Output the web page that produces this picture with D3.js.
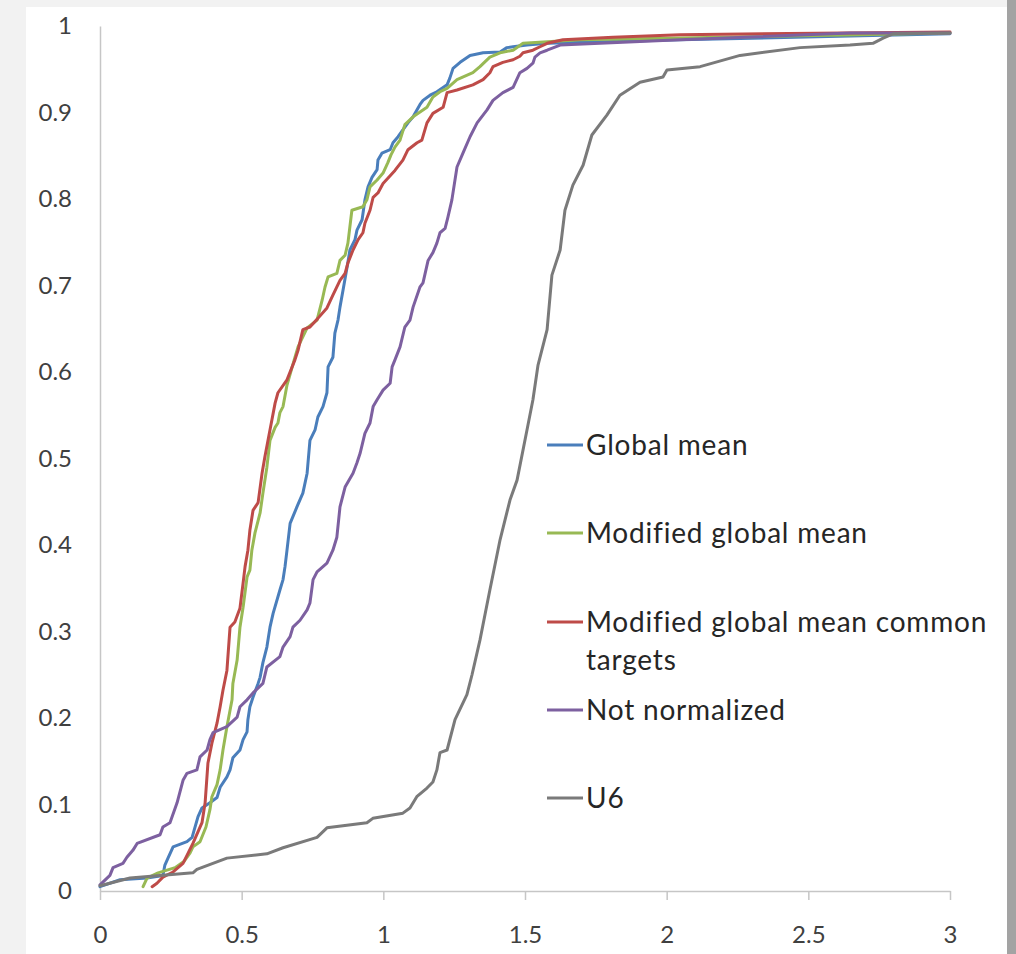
<!DOCTYPE html>
<html>
<head>
<meta charset="utf-8">
<script src="https://cdn.jsdelivr.net/npm/d3@7"></script>
<style>
  html, body { margin: 0; padding: 0; background: #f2f2f2; }
  svg { display: block; }
  .tick text { font-family: Lato, "Open Sans", sans-serif; fill: #404040; }
  .legend text { font-family: Lato, "Open Sans", sans-serif; fill: #262626; }
</style>
</head>
<body>
<svg id="chart" width="1016" height="954"></svg>
<script>
// series names, in drawing order
const seriesNames = [
  "Global mean",
  "Modified global mean",
  "Modified global mean common targets",
  "Not normalized",
  "U6",
];
const seriesColors = ["#4a7ebb", "#98b954", "#be4b48", "#7d60a0", "#7a7a7a"];

// tick values
const xTicks = [0, 0.5, 1, 1.5, 2, 2.5, 3];
const yTicks = [0, 0.1, 0.2, 0.3, 0.4, 0.5, 0.6, 0.7, 0.8, 0.9, 1];

// curves, [x, cumulative fraction]
const globalMean = [
  [0, 0.005], [0.071, 0.013], [0.166, 0.015], [0.222, 0.018], [0.229, 0.030],
  [0.240, 0.038], [0.258, 0.051], [0.307, 0.057], [0.325, 0.062], [0.346, 0.086],
  [0.360, 0.096], [0.388, 0.102], [0.413, 0.108], [0.424, 0.120], [0.448, 0.132],
  [0.459, 0.140], [0.469, 0.154], [0.494, 0.163], [0.505, 0.175], [0.519, 0.184],
  [0.522, 0.198], [0.529, 0.213], [0.540, 0.224], [0.558, 0.240], [0.565, 0.247],
  [0.575, 0.264], [0.589, 0.282], [0.600, 0.305], [0.611, 0.321], [0.635, 0.348],
  [0.646, 0.360], [0.653, 0.375], [0.660, 0.394], [0.671, 0.425], [0.695, 0.444],
  [0.716, 0.460], [0.731, 0.483], [0.741, 0.521], [0.759, 0.533], [0.769, 0.548],
  [0.787, 0.560], [0.801, 0.576], [0.805, 0.606], [0.822, 0.617], [0.829, 0.645],
  [0.840, 0.660], [0.847, 0.675], [0.858, 0.695], [0.872, 0.721], [0.882, 0.741],
  [0.900, 0.753], [0.907, 0.764], [0.925, 0.776], [0.935, 0.799], [0.946, 0.814],
  [0.960, 0.825], [0.978, 0.834], [0.981, 0.845], [0.995, 0.853], [1.024, 0.857],
  [1.034, 0.865], [1.052, 0.872], [1.069, 0.880], [1.087, 0.888], [1.105, 0.895],
  [1.129, 0.909], [1.140, 0.914], [1.165, 0.920], [1.189, 0.924], [1.225, 0.932],
  [1.235, 0.940], [1.246, 0.951], [1.271, 0.958], [1.306, 0.966], [1.352, 0.969],
  [1.412, 0.970], [1.436, 0.975], [1.458, 0.976], [1.507, 0.978], [1.578, 0.980],
  [2.047, 0.984], [3.0, 0.991],
];

const modifiedMean = [
  [0.152, 0.005], [0.166, 0.015], [0.205, 0.021], [0.265, 0.027], [0.296, 0.034],
  [0.318, 0.044], [0.328, 0.051], [0.353, 0.057], [0.374, 0.074], [0.388, 0.094],
  [0.395, 0.109], [0.413, 0.123], [0.424, 0.140], [0.434, 0.163], [0.448, 0.190],
  [0.466, 0.221], [0.469, 0.240], [0.484, 0.267], [0.494, 0.305], [0.505, 0.328],
  [0.519, 0.363], [0.529, 0.371], [0.536, 0.394], [0.547, 0.414], [0.565, 0.437],
  [0.575, 0.460], [0.589, 0.490], [0.600, 0.521], [0.618, 0.536], [0.628, 0.541],
  [0.635, 0.553], [0.646, 0.560], [0.660, 0.585], [0.688, 0.617], [0.699, 0.629],
  [0.731, 0.651], [0.766, 0.660], [0.784, 0.683], [0.794, 0.698], [0.805, 0.710],
  [0.836, 0.714], [0.847, 0.729], [0.865, 0.735], [0.875, 0.749], [0.889, 0.787],
  [0.928, 0.791], [0.942, 0.799], [0.953, 0.814], [0.978, 0.822], [0.999, 0.830],
  [1.016, 0.842], [1.027, 0.851], [1.041, 0.860], [1.059, 0.868], [1.076, 0.886],
  [1.105, 0.895], [1.154, 0.906], [1.175, 0.918], [1.200, 0.924], [1.225, 0.928],
  [1.246, 0.934], [1.260, 0.938], [1.316, 0.946], [1.341, 0.953], [1.376, 0.964],
  [1.412, 0.969], [1.458, 0.972], [1.493, 0.980], [1.694, 0.984], [2.047, 0.986],
  [3.0, 0.992],
];

const commonTargets = [
  [0.184, 0.005], [0.201, 0.009], [0.222, 0.016], [0.258, 0.022], [0.293, 0.032],
  [0.328, 0.055], [0.360, 0.079], [0.371, 0.102], [0.381, 0.148], [0.395, 0.171],
  [0.413, 0.194], [0.424, 0.213], [0.434, 0.232], [0.448, 0.255], [0.459, 0.305],
  [0.476, 0.311], [0.494, 0.327], [0.505, 0.356], [0.512, 0.375], [0.522, 0.394],
  [0.529, 0.417], [0.540, 0.440], [0.558, 0.449], [0.572, 0.483], [0.582, 0.502],
  [0.593, 0.521], [0.607, 0.545], [0.618, 0.564], [0.628, 0.576], [0.660, 0.591],
  [0.688, 0.614], [0.699, 0.625], [0.716, 0.649], [0.741, 0.652], [0.769, 0.662],
  [0.801, 0.674], [0.822, 0.689], [0.847, 0.706], [0.865, 0.714], [0.875, 0.726],
  [0.893, 0.741], [0.911, 0.753], [0.928, 0.761], [0.935, 0.772], [0.953, 0.787],
  [0.964, 0.802], [0.981, 0.807], [0.999, 0.818], [1.016, 0.824], [1.041, 0.833],
  [1.069, 0.845], [1.087, 0.857], [1.119, 0.865], [1.136, 0.868], [1.154, 0.888],
  [1.175, 0.899], [1.211, 0.906], [1.225, 0.923], [1.260, 0.926], [1.316, 0.932],
  [1.352, 0.938], [1.376, 0.946], [1.387, 0.953], [1.422, 0.958], [1.458, 0.961],
  [1.482, 0.965], [1.493, 0.969], [1.528, 0.972], [1.553, 0.976], [1.578, 0.980],
  [1.634, 0.984], [1.811, 0.987], [2.047, 0.990], [3.0, 0.993],
];

const notNormalized = [
  [0, 0.007], [0.035, 0.018], [0.046, 0.027], [0.081, 0.032], [0.095, 0.039],
  [0.116, 0.047], [0.131, 0.055], [0.212, 0.065], [0.222, 0.074], [0.247, 0.079],
  [0.272, 0.102], [0.293, 0.128], [0.307, 0.136], [0.342, 0.140], [0.353, 0.155],
  [0.378, 0.163], [0.388, 0.175], [0.399, 0.183], [0.448, 0.190], [0.484, 0.201],
  [0.494, 0.213], [0.519, 0.221], [0.540, 0.229], [0.575, 0.240], [0.589, 0.259],
  [0.635, 0.271], [0.646, 0.282], [0.671, 0.294], [0.681, 0.305], [0.706, 0.313],
  [0.731, 0.325], [0.741, 0.333], [0.752, 0.360], [0.766, 0.369], [0.801, 0.379],
  [0.822, 0.394], [0.836, 0.409], [0.847, 0.444], [0.865, 0.467], [0.893, 0.483],
  [0.907, 0.495], [0.918, 0.506], [0.935, 0.529], [0.953, 0.541], [0.964, 0.560],
  [0.978, 0.568], [0.999, 0.579], [1.024, 0.587], [1.031, 0.606], [1.041, 0.614],
  [1.059, 0.629], [1.076, 0.652], [1.094, 0.660], [1.105, 0.675], [1.129, 0.698],
  [1.140, 0.703], [1.158, 0.729], [1.175, 0.738], [1.189, 0.749], [1.200, 0.761],
  [1.218, 0.766], [1.228, 0.779], [1.242, 0.799], [1.260, 0.837], [1.281, 0.853],
  [1.306, 0.872], [1.331, 0.888], [1.366, 0.903], [1.387, 0.914], [1.422, 0.923],
  [1.458, 0.929], [1.482, 0.946], [1.507, 0.951], [1.528, 0.957], [1.535, 0.964],
  [1.553, 0.969], [1.578, 0.972], [1.624, 0.978], [2.047, 0.984], [2.647, 0.992],
  [3.0, 0.992],
];

const u6 = [
  [0, 0.006], [0.106, 0.015], [0.328, 0.021], [0.342, 0.025], [0.448, 0.038],
  [0.589, 0.043], [0.646, 0.050], [0.766, 0.062], [0.801, 0.073], [0.942, 0.079],
  [0.963, 0.084], [1.069, 0.090], [1.094, 0.096], [1.118, 0.109], [1.154, 0.119],
  [1.175, 0.126], [1.189, 0.140], [1.200, 0.160], [1.225, 0.163], [1.253, 0.198],
  [1.295, 0.227], [1.313, 0.250], [1.341, 0.290], [1.376, 0.348], [1.412, 0.406],
  [1.447, 0.452], [1.472, 0.475], [1.507, 0.533], [1.528, 0.568], [1.546, 0.608],
  [1.578, 0.649], [1.595, 0.712], [1.624, 0.741], [1.641, 0.787], [1.669, 0.816],
  [1.705, 0.839], [1.736, 0.874], [1.789, 0.897], [1.835, 0.920], [1.906, 0.935],
  [1.987, 0.941], [2.001, 0.949], [2.118, 0.953], [2.259, 0.966], [2.471, 0.975],
  [2.647, 0.978], [2.728, 0.980], [2.764, 0.986], [2.799, 0.991], [3.0, 0.992],
];

const seriesData = [globalMean, modifiedMean, commonTargets, notNormalized, u6];

const svg = d3.select("#chart");

// page frame: white sheet with a darker strip on the right
svg.append("rect").attr("x", 26).attr("y", 7).attr("width", 981).attr("height", 947).attr("fill", "#ffffff");
svg.append("rect").attr("x", 1007).attr("y", 0).attr("width", 9).attr("height", 954).attr("fill", "#a3a3a3");

const x = d3.scaleLinear().domain([0, 3]).range([100, 950]);
const y = d3.scaleLinear().domain([0, 1]).range([891, 26]);

// x axis
const xAxis = svg.append("g")
  .attr("transform", `translate(0,${y(0)})`)
  .call(d3.axisBottom(x).tickValues(xTicks).tickFormat(d3.format("")).tickSize(9).tickSizeOuter(0).tickPadding(26));
xAxis.select(".domain").attr("stroke", "#c6c6c6").attr("stroke-width", 1.5);
xAxis.selectAll(".tick line").attr("stroke", "#c6c6c6").attr("stroke-width", 1.5);
xAxis.selectAll(".tick text").attr("font-size", 24).attr("dy", "0.7em");

// y axis, no tick marks
const yAxis = svg.append("g")
  .attr("transform", `translate(${x(0)},0)`)
  .call(d3.axisLeft(y).tickValues(yTicks).tickFormat(d3.format("")).tickSize(0).tickSizeOuter(0).tickPadding(28));
yAxis.select(".domain").attr("stroke", "#c6c6c6").attr("stroke-width", 1.5);
yAxis.selectAll(".tick text").attr("font-size", 24);

// curves
const line = d3.line().x((d) => x(d[0])).y((d) => y(d[1]));
svg.append("g")
  .selectAll("path")
  .data(seriesData)
  .join("path")
  .attr("d", line)
  .attr("fill", "none")
  .attr("stroke", (d, i) => seriesColors[i])
  .attr("stroke-width", 3)
  .attr("stroke-linejoin", "round")
  .attr("stroke-linecap", "round");

// legend
const legendRows = [
  { lines: ["Global mean"], y: 445 },
  { lines: ["Modified global mean"], y: 533 },
  { lines: ["Modified global mean common", "targets"], y: 622 },
  { lines: ["Not normalized"], y: 710 },
  { lines: ["U6"], y: 798 },
];
const legend = svg.append("g").attr("class", "legend");
legendRows.forEach((row, i) => {
  legend.append("line")
    .attr("x1", 547).attr("x2", 583)
    .attr("y1", row.y).attr("y2", row.y)
    .attr("stroke", seriesColors[i]).attr("stroke-width", 3);
  const t = legend.append("text")
    .attr("x", 586).attr("y", row.y)
    .attr("font-size", 28)
    .attr("letter-spacing", 0.8);
  row.lines.forEach((s, j) => {
    t.append("tspan").attr("x", 586).attr("dy", j === 0 ? "0.36em" : 38).text(s);
  });
});
</script>
</body>
</html>
